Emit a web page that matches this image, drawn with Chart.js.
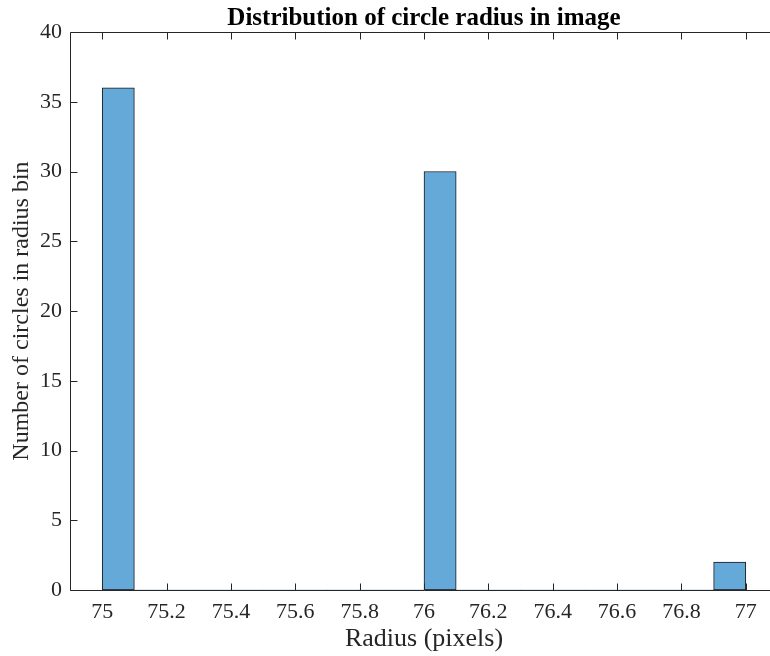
<!DOCTYPE html>
<html>
<head>
<meta charset="utf-8">
<script src="https://cdn.jsdelivr.net/npm/chart.js@4/dist/chart.umd.min.js"></script>
<style>
html,body{margin:0;padding:0;background:#fff;overflow:hidden;}
#wrap{width:780px;height:656px;}
</style>
</head>
<body>
<div id="wrap"><canvas id="c" width="780" height="656"></canvas></div>
<script>
// Histogram bins (bin centers, width 0.1) and counts
const binCenters = [75.05,75.15,75.25,75.35,75.45,75.55,75.65,75.75,75.85,75.95,
                    76.05,76.15,76.25,76.35,76.45,76.55,76.65,76.75,76.85,76.95];
const counts     = [36,0,0,0,0,0,0,0,0,0,
                    30,0,0,0,0,0,0,0,0,2];
const xTickValues = [75,75.2,75.4,75.6,75.8,76,76.2,76.4,76.6,76.8,77];
const yTickValues = [0,5,10,15,20,25,30,35,40];
const titleText = 'Distribution of circle radius in image';
const xLabel = 'Radius (pixels)';
const yLabel = 'Number of circles in radius bin';

const FONT = '"Liberation Serif", "Times New Roman", serif';
const AXIS = '#262626';

const boxPlugin = {
  id: 'matlabBox',
  afterDatasetsDraw(chart) {
    const {ctx, chartArea: a, scales} = chart;
    const L = Math.round(a.left) + 0.5, R = Math.round(a.right) + 0.5;
    const T = Math.round(a.top) + 0.5, B = Math.round(a.bottom) + 0.5;
    ctx.save();
    ctx.strokeStyle = AXIS;
    ctx.lineWidth = 1;
    ctx.beginPath();
    ctx.moveTo(L, T); ctx.lineTo(R, T); ctx.lineTo(R, B); ctx.lineTo(L, B); ctx.closePath();
    const tl = 7;
    xTickValues.forEach(v => {
      const x = Math.round(scales.x.getPixelForValue(v)) + 0.5;
      ctx.moveTo(x, B); ctx.lineTo(x, B - tl);
      ctx.moveTo(x, T); ctx.lineTo(x, T + tl);
    });
    yTickValues.forEach(v => {
      const y = Math.round(scales.y.getPixelForValue(v)) + 0.5;
      ctx.moveTo(L, y); ctx.lineTo(L + tl, y);
      ctx.moveTo(R, y); ctx.lineTo(R - tl, y);
    });
    ctx.stroke();
    ctx.restore();
  }
};

new Chart(document.getElementById('c'), {
  type: 'bar',
  data: {
    datasets: [{
      data: binCenters.map((x, i) => ({x: x, y: counts[i]})),
      backgroundColor: '#64a9d7',
      borderColor: '#1a1a1a',
      borderWidth: c => (c.raw && c.raw.y > 0 ? 1 : 0),
      borderSkipped: false,
      barPercentage: 1,
      categoryPercentage: 1
    }]
  },
  options: {
    responsive: false,
    animation: false,
    events: [],
    layout: {padding: {left: 0, right: 2, top: 0, bottom: 0}},
    plugins: {
      legend: {display: false},
      tooltip: {enabled: false},
      title: {
        display: true,
        text: titleText,
        fullSize: false,
        color: '#000',
        font: {family: FONT, size: 25, weight: 'bold', lineHeight: 1},
        padding: {top: 6, bottom: 1}
      }
    },
    scales: {
      x: {
        type: 'linear',
        min: 74.9,
        max: 77.1,
        offset: false,
        grid: {display: false, drawTicks: false},
        border: {display: false},
        afterBuildTicks: s => { s.ticks = xTickValues.map(v => ({value: v})); },
        afterFit: s => { s.height = 66; },
        ticks: {
          color: AXIS,
          padding: 9,
          maxRotation: 0,
          autoSkip: false,
          font: {family: FONT, size: 22},
          callback: v => String(v)
        },
        title: {
          display: true,
          text: xLabel,
          color: AXIS,
          font: {family: FONT, size: 26},
          padding: {top: 0, bottom: 1}
        }
      },
      y: {
        min: 0,
        max: 40,
        grid: {display: false, drawTicks: false},
        border: {display: false},
        afterBuildTicks: s => { s.ticks = yTickValues.map(v => ({value: v})); },
        afterFit: s => { s.width = 70; },
        ticks: {
          color: AXIS,
          padding: 8,
          autoSkip: false,
          font: {family: FONT, size: 22},
          callback: v => String(v)
        },
        title: {
          display: true,
          text: yLabel,
          color: AXIS,
          font: {family: FONT, size: 24},
          padding: {top: 7, bottom: 0}
        }
      }
    }
  },
  plugins: [boxPlugin]
});
</script>
</body>
</html>
